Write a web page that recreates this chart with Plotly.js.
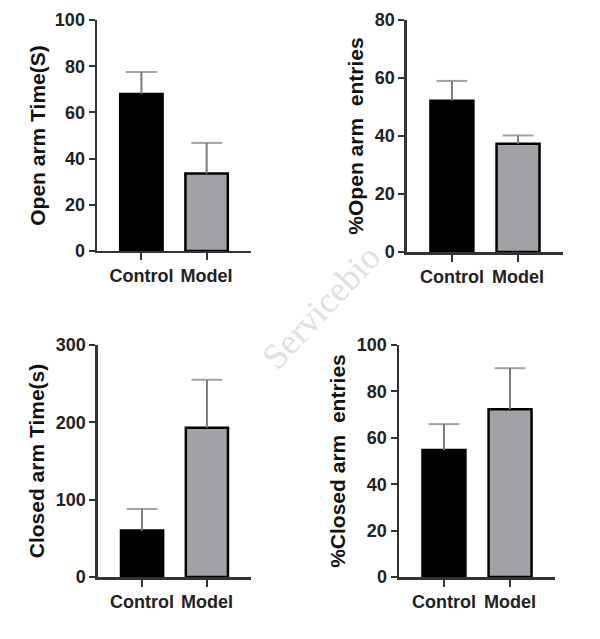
<!DOCTYPE html>
<html>
<head>
<meta charset="utf-8">
<script src="https://cdn.plot.ly/plotly-3.0.1.min.js"></script>
<style>
  body { margin: 0; background: #fff; }
  #chart { width: 600px; height: 639px; }
</style>
</head>
<body>
<div id="chart"></div>
<script>
var groups = ['Control', 'Model'];

// mean values, with the upper SD
var openTime = [68, 33.5];
var openTimeSd = [9.5, 13.3];
var openEntries = [52.2, 37.3];
var openEntriesSd = [6.8, 2.9];
var closedTime = [60, 193];
var closedTimeSd = [28, 62];
var closedEntries = [54.7, 72.3];
var closedEntriesSd = [11.2, 17.7];

var barFill = ['#000000', '#a2a2a6'];
var errColor = '#7a7a7a';
var tickFont = {family: 'Liberation Sans, Arial', size: 18, color: '#222', weight: 'bold'};
var titleFont = {family: 'Liberation Sans, Arial', size: 21, color: '#111', weight: 'bold'};

function suffix(n) { return n == 1 ? '' : String(n); }

function makeBar(vals, n) {
    return {
        type: 'bar',
        x: groups,
        y: vals,
        xaxis: 'x' + suffix(n),
        yaxis: 'y' + suffix(n),
        width: 0.65,
        marker: {color: barFill, line: {color: '#000', width: 2.5}},
        hoverinfo: 'x+y',
        showlegend: false
    };
}

// upper-only error bars (GraphPad style): stem from the bar top plus a cap
function makeErr(vals, sd, n) {
    var xs = [], ys = [], sizes = [];
    for (var i = 0; i < groups.length; i++) {
        xs.push(groups[i], groups[i], groups[i]);
        ys.push(vals[i], vals[i] + sd[i], null);
        sizes.push(0, 22, 0);
    }
    return {
        type: 'scatter',
        mode: 'lines+markers',
        x: xs, y: ys,
        xaxis: 'x' + suffix(n),
        yaxis: 'y' + suffix(n),
        connectgaps: false,
        line: {color: errColor, width: 2},
        marker: {symbol: 'line-ew', size: sizes, line: {color: errColor, width: 2}},
        hoverinfo: 'skip',
        showlegend: false
    };
}

function xax(dom, anchor) {
    return {
        domain: dom, anchor: anchor,
        type: 'category',
        range: [-0.68, 1.68],
        showline: true, linecolor: '#333', linewidth: 2.5,
        ticks: 'outside', ticklen: 7, tickwidth: 2, tickcolor: '#333',
        tickfont: tickFont, showgrid: false, zeroline: false, fixedrange: true
    };
}

function yax(dom, anchor, rng, dt, title, so) {
    return {
        domain: dom, anchor: anchor,
        range: rng, dtick: dt,
        showline: true, linecolor: '#333', linewidth: 2.5,
        ticks: 'outside', ticklen: 6, tickwidth: 2, tickcolor: '#333',
        tickfont: tickFont, showgrid: false, zeroline: false, fixedrange: true,
        title: {text: title, font: titleFont, standoff: so}
    };
}

var data = [
    makeBar(openTime, 1),
    makeBar(openEntries, 2),
    makeBar(closedTime, 3),
    makeBar(closedEntries, 4),
    makeErr(openTime, openTimeSd, 1),
    makeErr(openEntries, openEntriesSd, 2),
    makeErr(closedTime, closedTimeSd, 3),
    makeErr(closedEntries, closedEntriesSd, 4)
];

var layout = {
    width: 600, height: 639,
    margin: {l: 0, r: 0, t: 0, b: 0},
    paper_bgcolor: '#fff', plot_bgcolor: '#fff',
    bargap: 0,
    xaxis: xax([0.1617, 0.4183], 'y'),
    yaxis: yax([0.6072, 0.9687], 'x', [0, 100], 20, 'Open arm Time(S)', 4),
    xaxis2: xax([0.6783, 0.9383], 'y2'),
    yaxis2: yax([0.6056, 0.9687], 'x2', [0, 80], 20, '%Open arm  entries', 6),
    xaxis3: xax([0.1633, 0.4183], 'y3'),
    yaxis3: yax([0.0970, 0.4601], 'x3', [0, 300], 100, 'Closed arm Time(s)', 6),
    xaxis4: xax([0.665, 0.925], 'y4'),
    yaxis4: yax([0.0970, 0.4601], 'x4', [0, 100], 20, '%Closed arm  entries', 6),
    annotations: [{
        text: 'Servicebio', xref: 'paper', yref: 'paper',
        x: 0.535, y: 0.52, showarrow: false, textangle: -47,
        font: {family: 'Liberation Serif, Times New Roman', size: 36, color: '#e0e0e0'}
    }]
};

Plotly.newPlot('chart', data, layout, {displayModeBar: false, staticPlot: true});
</script>
</body>
</html>
